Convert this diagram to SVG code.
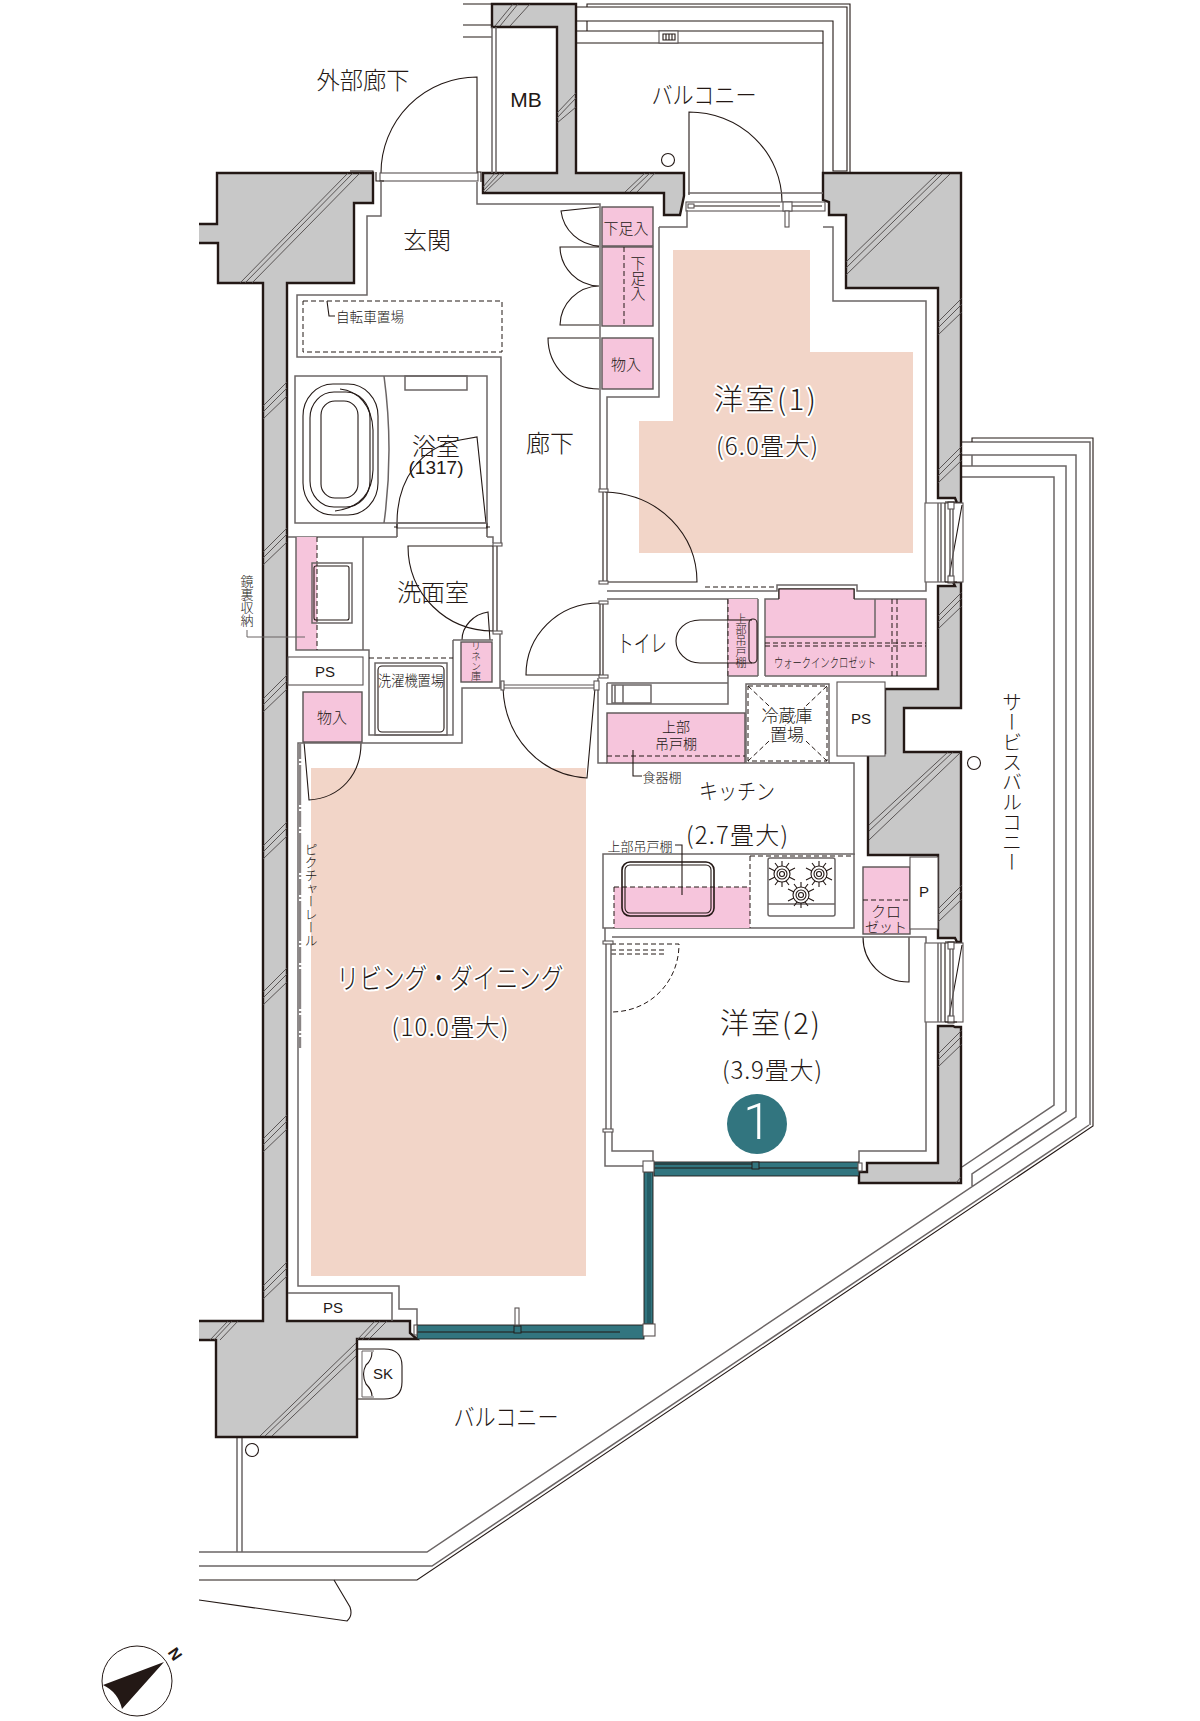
<svg xmlns="http://www.w3.org/2000/svg" width="1200" height="1721" viewBox="0 0 1200 1721">
<style>
text{font-family:"Noto Sans CJK JP","Noto Sans",sans-serif;fill:#231815;text-anchor:middle;dominant-baseline:central}
text:not(.en){font-weight:300}
.en{font-family:"Liberation Sans",Arial,sans-serif}
.halo{stroke:#fff;stroke-width:4px;paint-order:stroke;stroke-linejoin:round}
.v{writing-mode:vertical-rl;text-orientation:upright}
.f24{font-size:24px}.f22{font-size:22px}.f15{font-size:15px}.f14{font-size:14px}.f13{font-size:13px}.f12{font-size:12px}
.wall{fill:#c8c8c8;stroke:#231815;stroke-width:2.4;stroke-linejoin:miter}
.wf{fill:#c8c8c8;stroke:none}
.ws{fill:none;stroke:#231815;stroke-width:2.4}
.pink{fill:#f6c5dc;stroke:#5a5353;stroke-width:1.4}
.peach{fill:#f2d5c8}
.l{fill:none;stroke:#231815;stroke-width:1.1}
.g{fill:none;stroke:#6b6565;stroke-width:1.5}
.d{fill:none;stroke:#231815;stroke-width:1;stroke-dasharray:5 3}
.w{fill:#fff;stroke:#5a5353;stroke-width:1.1}
.h{fill:none;stroke:#4d4747;stroke-width:.9}
.teal{fill:#32757f;stroke:#231815;stroke-width:.9}
</style>
<defs>
<g id="hw"><path class="h" d="M24,0L0,24M24,6L0,30M24,14L0,37"/></g>
<g id="win">
<rect class="w" x="925" y="0" width="38" height="79"/>
<path class="g" d="M938,0V79M941,0V79"/>
<path class="l" d="M945,0V79M962,2L949,74"/>
<path class="g" d="M950,4V76M953,4V76"/>
<rect class="w" x="948" y="-1" width="6" height="7"/>
<rect class="w" x="948" y="73" width="6" height="7"/>
<path class="ws" d="M945,-1H957M945,79H957" style="stroke-width:1.2"/>
</g>
<g id="burner">
<circle class="l" r="8"/><circle class="l" r="5"/><circle class="l" r="2.5"/>
<path class="l" d="M0,-13V-8M0,13V8M-13,-6L-7,-3M13,-6L7,-3M-13,6L-7,3M13,6L7,3M-7,-11L-4,-7M7,-11L4,-7M-7,11L-4,7M7,11L4,7"/>
</g>
</defs>
<rect width="1200" height="1721" fill="#fff"/>

<g id="floor-colour">
<path class="peach" d="M673,250H810V352H913V553H639V421H673Z"/>
<rect class="peach" x="311" y="768" width="275" height="508"/>
</g>

<g id="balcony-rails">
<path class="l" d="M587,7V4H850V172M577,7H847V171H833V21H577M587,21V31M576,31H823V173M576,43H823"/>
<rect class="w" x="659" y="31" width="19" height="12"/>
<path class="l" d="M663,34H675V40H663ZM666,34V40M669,34V40M672,34V40"/>
<circle class="l" cx="668" cy="160" r="6.5"/>
<path class="l" d="M463,4H492M463,25H492M463,37H492"/>
<path class="g" d="M961,442H1090V1125M961,455H1076V1117L427,1552H199M972,455V466M961,466H1066V1111L972,1174V1186M961,477H1054V1105L962,1167"/>
<path class="l" d="M972,442V438H1093V1126L417,1580H199"/>
<path class="g" d="M1089,1125L432,1566H199"/>
<path class="l" d="M334,1580L350,1607Q353,1616 347,1621L199,1600"/>
<path class="g" d="M237,1437V1552M242,1437V1552"/>
<circle class="l" cx="252" cy="1450" r="6.5"/>
<circle class="l" cx="974" cy="763" r="6.5"/>
<path class="l" d="M357,1349H384Q402,1349 402,1366V1382Q402,1399 384,1399H357"/>
<path class="g" d="M362,1351H374M362,1351V1397H374" style="stroke-width:1"/>
<path class="l" d="M372,1352Q372,1360 366,1365Q361,1374 366,1384Q372,1390 372,1396"/>
</g>

<g id="walls">
<path class="wf" d="M216,173H373V203H354V283H287V1321H410V1333L417,1340H357V1437H216V1340H199V1321H263V283H218V243H199V224H217Z"/>
<path class="ws" d="M199,224H217V173H373V203H354V283H287V1321H410V1333L417,1339H357V1437H216V1340H199M199,243H218V283H263V1321H199"/>
<path class="wall" d="M492,27V4H576V173H684V196L680,215H664V193H483V173H557V27Z"/>
<path class="wall" d="M823,173H961V503H957L955,498H938V288H846V215H829V202L823,200Z"/>
<path class="wall" d="M961,582H953L955,586H938V689H885V753H868V855H938V938H955L957,942H961V752H904V708H961Z"/>
<path class="wall" d="M961,1027H955L953,1026H938V1163H867V1172H859V1183H961Z"/>
<path class="g" d="M492,27V173M496,27V173"/>
</g>

<g id="wall-hatch">
<use href="#hw" x="263" y="382"/><use href="#hw" x="263" y="528"/><use href="#hw" x="263" y="675"/><use href="#hw" x="263" y="822"/><use href="#hw" x="263" y="968"/><use href="#hw" x="263" y="1115"/><use href="#hw" x="263" y="1262"/>
<use href="#hw" x="938" y="298"/><use href="#hw" x="938" y="446"/><use href="#hw" x="938" y="592"/><use href="#hw" x="938" y="885"/><use href="#hw" x="938" y="1030"/>
<path class="h" d="M576,93L557,113M576,98L557,118M576,107L557,123M348,173L240,283M353,173L245,283M360,173L252,283M513,4L495,26M518,4L500,26M530,4L510,26M495,173L483,187M500,173L483,191M505,173L485,192M645,173L625,192M650,173L630,192M655,173L637,192M937,174L846,262M942,174L846,268M950,174L846,275M948,752L869,825M953,752L869,831M961,752L869,840M228,1321L210,1340M232,1321L214,1340M238,1321L220,1340M375,1321L357,1340M380,1321L362,1340M387,1321L368,1340M356,1343L260,1436M356,1349L265,1436M356,1356L272,1436M961,1177L956,1183"/>
</g>

<g id="windows-and-doors">
<use href="#win" y="503"/><use href="#win" y="943"/>
<path class="l" d="M477,175V77A96,96 0 0 0 381,173"/>
<rect class="w" x="380" y="173" width="98" height="8"/>
<path class="l" d="M376,172V181H384M477,172H481V182M350,171H373V173"/>
<path class="l" d="M689,195V112A93,90 0 0 1 782,202"/>
<path class="g" d="M688,193H823"/>
<rect class="w" x="686" y="202" width="139" height="9"/>
<path class="l" d="M690,206H780M792,206H822"/>
<rect class="w" x="783" y="202" width="9" height="9"/>
<rect class="w" x="785" y="211" width="4" height="16"/>
<rect class="w" x="688" y="204" width="6" height="4"/>
<path class="l" d="M599,207L561,211A40,40 0 0 0 599,246M599,247H560A40,40 0 0 0 599,286A40,40 0 0 0 560,325H599M599,338H548A51,51 0 0 0 599,389"/>
<path class="l" d="M605,492C660,494 697,535 697,582H605"/>
<path class="l" d="M600,603C557,603 526,636 526,675H600"/>
<path class="l" d="M486,523L477,437L460,440C420,447 397,480 397,523"/>
<path class="w" d="M397,523H487V528H397Z"/>
<path class="l" d="M397,523V537M487,523V537M394,527H397M486,527H490"/>
<path class="l" d="M493,546H408C408,594 446,631 493,631"/>
<path class="l" d="M462,640C462,626 474,614 488,612L490,640"/>
<path class="l" d="M503,688C505,738 540,775 587,778L595,688"/>
<path class="l" d="M304,742L309,800C340,798 361,775 361,743"/>
<path class="l" d="M863,937C863,962 882,982 909,982V937"/>
<path class="d" d="M611,944H679C679,982 650,1012 611,1012M611,950H664M611,954H664"/>
</g>

<g id="inner-walls">
<path class="g" d="M381,182V216H367V295H297V357H501V543M477,182V204H600V490M659,227V397H607V490M659,227H687V210M823,227H833V301H926V503M926,582V591H857V585H777V591H607M607,599H758"/>
<path class="l" d="M603,490V583M607,490V583M600,603V675M603,603V675M493,546V631M497,546V631"/>
<rect class="w" x="599" y="489" width="9" height="3"/>
<rect class="w" x="599" y="581" width="9" height="3"/>
<rect class="w" x="599" y="601" width="9" height="3"/>
<rect class="w" x="599" y="675" width="9" height="3"/>
<rect class="w" x="493" y="543" width="9" height="3"/>
<rect class="w" x="493" y="631" width="9" height="3"/>
<path class="g" d="M500,634V688H462V743H298V1286H399V1309H417V1325M453,640H493M288,537H397M487,537H493V543M607,683V704H728V599M607,683H728M598,678V763H607M829,763H854V855M288,1293H392V1321"/>
<path class="w" d="M502,685H595V688H502Z"/>
<rect class="w" x="501" y="681" width="3" height="9"/>
<rect class="w" x="594" y="681" width="5" height="9"/>
<path class="d" d="M705,587H775"/>
<path class="l" d="M779,599V589H854V599" />
<path class="g" d="M612,937H926V943M605,928V943M606,943V1130M611,943V1130M605,1131V1166H643M612,1131V1151H653V1162M859,1162V1151H926V1022"/>
<rect class="w" x="603" y="941" width="10" height="3"/>
<rect class="w" x="603" y="1129" width="10" height="3"/>
</g>

<g id="bicycle">
<rect class="d" x="303" y="301" width="199" height="51"/>
<path class="l" d="M327,301L329,316H335"/>
<text class="f14" x="370" y="316" textLength="68" lengthAdjust="spacingAndGlyphs">自転車置場</text>
</g>

<g id="bath">
<rect class="g" x="295" y="376" width="192" height="147"/>
<path class="g" d="M384,376Q394,450 384,523"/>
<rect class="g" x="405" y="376" width="62" height="14"/>
<rect class="l" x="303" y="384" width="75" height="131" rx="30" ry="32"/>
<rect class="l" x="310" y="392" width="60" height="115" rx="24" ry="26"/>
<rect class="l" x="321" y="401" width="37" height="97" rx="14" ry="14"/>
<path class="l" d="M340,389C358,391 372,405 373,430V470C372,495 358,508 335,511"/>
</g>

<g id="wash">
<rect class="pink" x="296" y="537" width="21" height="113" style="stroke:none"/>
<path class="g" d="M296,537V650H369V735H453V640M363,537V650"/>
<path class="d" d="M317,537V650M369,658H453"/>
<rect class="g" x="312" y="563" width="40" height="60"/>
<rect class="l" x="314" y="566" width="35" height="54" rx="2"/>
<rect class="g" x="375" y="663" width="72" height="72"/>
<rect class="l" x="378" y="666" width="66" height="66" rx="4"/>
<rect class="w" x="288" y="657" width="75" height="28"/>
<text class="en f15" x="325" y="671">PS</text>
<text class="f15" x="411" y="679" textLength="66" lengthAdjust="spacingAndGlyphs">洗濯機置場</text>
</g>

<g id="storage">
<rect class="pink" x="602" y="207" width="51" height="39"/>
<text class="f15" x="626" y="227">下足入</text>
<rect class="pink" x="602" y="247" width="51" height="79"/>
<path class="d" d="M624,247V326"/>
<text class="f15 v" x="638" y="278">下足入</text>
<rect class="pink" x="602" y="338" width="51" height="51"/>
<text class="f15" x="626" y="363">物入</text>
<rect class="pink" x="303" y="692" width="59" height="50"/>
<text class="f15" x="332" y="716">物入</text>
<rect class="pink" x="461" y="642" width="31" height="40"/>
<text class="v" x="476" y="661" style="font-size:10px">リネン庫</text>
<rect class="pink" x="863" y="867" width="47" height="67"/>
<path class="d" d="M863,900H910"/>
<text class="f15" x="886" y="910">クロ</text>
<text class="f14" x="886" y="926">ゼット</text>
</g>

<g id="toilet">
<path d="M728,599H758V676H728Z" fill="#f6c5dc"/>
<path class="d" d="M728,599V676"/>
<path class="g" d="M758,599V676M728,676H758"/>
<path class="l" d="M728,620H700C685,620 676,630 676,641C676,652 686,663 700,663H728H752"/>
<path class="l" d="M728,620H752"/>
<rect class="l" x="749" y="619" width="8" height="44" rx="4"/>
<text class="v" x="741" y="641" style="font-size:11px">上部吊戸棚</text>
<rect class="g" x="612" y="685" width="39" height="18"/>
<path class="g" d="M623,685V703M615,685V703"/>
</g>

<g id="wic">
<path class="pink" d="M779,589H854V599H926V676H765V599H779Z" style="stroke:none"/>
<path class="g" d="M765,676V599H779M875,599V637H765M854,599H926V676H765"/>
<path class="l" d="M779,599V589H854V599"/>
<path class="d" d="M765,643H926M765,646H926M892,599V676M897,599V676"/>
<text class="f13" x="825" y="661" textLength="102" lengthAdjust="spacingAndGlyphs">ウォークインクロゼット</text>
</g>

<g id="kitchen">
<rect class="pink" x="607" y="713" width="138" height="50"/>
<path class="d" d="M607,756H745"/>
<path class="l" d="M633,750V776H642"/>
<text class="f14" x="676" y="726">上部</text>
<text class="f14" x="676" y="743">吊戸棚</text>
<text class="f13" x="662" y="776">食器棚</text>
<rect class="g" x="746" y="684" width="83" height="79"/>
<path class="d" d="M748,686H827V761H748ZM748,686L827,761M827,686L748,761"/>
<text class="f15" x="787" y="714" style="font-size:17px;stroke:#fff;stroke-width:3px;paint-order:stroke">冷蔵庫</text>
<text class="f15" x="787" y="733" style="font-size:17px;stroke:#fff;stroke-width:3px;paint-order:stroke">置場</text>
<rect class="w" x="837" y="682" width="48" height="74"/>
<text class="en f15" x="861" y="718">PS</text>
<rect class="g" x="603" y="854" width="251" height="74"/>
<rect x="614" y="887" width="136" height="41" fill="#f6c5dc"/>
<path class="d" d="M614,887H750V928M750,856V887M750,856H854M614,887V928"/>
<rect class="l" x="622" y="862" width="92" height="54" rx="8" style="stroke-width:1.6"/>
<rect class="l" x="625" y="865" width="86" height="48" rx="5"/>
<rect class="g" x="768" y="858" width="67" height="58" rx="2"/>
<path class="g" d="M768,904H835"/>
<use href="#burner" x="782" y="874"/><use href="#burner" x="819" y="874"/><use href="#burner" x="801" y="895"/>
<path class="l" d="M675,845H682V895"/>
<text class="f13" x="640" y="845">上部吊戸棚</text>
<rect class="w" x="910" y="857" width="28" height="72"/>
<text class="en f15" x="924" y="891">P</text>
</g>

<g id="rail">
<path d="M300,743V1048" fill="none" stroke="#8a8585" stroke-width="2.4" stroke-dasharray="16 2 2 2 40 2 2 2"/>
</g>

<g id="sash">
<rect class="teal" x="654" y="1162" width="205" height="14"/>
<path class="l" d="M654,1164H752M752,1168H860M654,1168H752"/>
<rect class="teal" x="752" y="1162" width="7" height="7"/>
<rect class="teal" x="644" y="1172" width="9" height="152"/>
<path class="l" d="M648,1172V1324M650,1172V1324" style="stroke:#1d4a52"/>
<rect class="teal" x="417" y="1325" width="227" height="14"/>
<path class="l" d="M417,1332H515M519,1332H620"/>
<rect class="teal" x="514" y="1326" width="7" height="7"/>
<rect class="w" x="515" y="1308" width="4" height="17"/>
<rect class="w" x="643" y="1324" width="12" height="12"/>
<rect class="w" x="643" y="1161" width="11" height="11"/>
<rect class="w" x="414" y="1325" width="3" height="10"/>
<rect class="w" x="858" y="1163" width="4" height="8"/>
</g>

<g id="compass">
<circle class="l" cx="137" cy="1681" r="35" style="stroke-width:1"/>
<path d="M164,1662L103,1685Q118,1692 122,1709Z" fill="#231815"/>
<text x="175" y="1654" transform="rotate(55 175 1654)" style="font-size:16px;font-weight:700" class="en">N</text>
</g>

<g id="mirror-note">
<text class="f13 v" x="247" y="601">鏡裏収納</text>
<path class="g" d="M247,630V637H305" style="stroke-width:1"/>
</g>

<g id="labels">
<text class="f24" x="363" y="78" textLength="93" lengthAdjust="spacingAndGlyphs">外部廊下</text>
<text class="en" x="526" y="99" style="font-size:21px">MB</text>
<text class="f24" x="704" y="93" textLength="105" lengthAdjust="spacingAndGlyphs">バルコニー</text>
<text class="f24" x="427" y="238">玄関</text>
<text class="f24" x="550" y="441">廊下</text>
<text class="f24" x="436" y="444">浴室</text>
<text class="en" x="436" y="467" style="font-size:19px">(1317)</text>
<text class="f24" x="433" y="590">洗面室</text>
<text class="f24" x="642" y="641" textLength="50" lengthAdjust="spacingAndGlyphs">トイレ</text>
<text class="f22" x="737" y="789" textLength="76" lengthAdjust="spacingAndGlyphs">キッチン</text>
<text class="f24" x="737" y="833" textLength="102">(2.7畳大)</text>
<text class="halo" x="765" y="397" style="font-size:29px" textLength="102">洋室(1)</text>
<text class="f24 halo" x="767" y="444" textLength="102">(6.0畳大)</text>
<text class="halo" x="770" y="1021" style="font-size:29px" textLength="100">洋室(2)</text>
<text class="f24" x="772" y="1068" textLength="100">(3.9畳大)</text>
<text class="halo" x="450" y="977" style="font-size:28px" textLength="227" lengthAdjust="spacingAndGlyphs">リビング・ダイニング</text>
<text class="f24 halo" x="450" y="1025" textLength="117">(10.0畳大)</text>
<text class="v" x="311" y="895" style="font-size:13px">ピクチャーレール</text>
<text class="v" x="1012" y="782" style="font-size:20px">サービスバルコニー</text>
<text class="f24" x="506" y="1415" textLength="105" lengthAdjust="spacingAndGlyphs">バルコニー</text>
<text class="en f15" x="333" y="1307">PS</text>
<text class="en f15" x="383" y="1373">SK</text>
</g>

<g id="marker-1">
<circle cx="757" cy="1124" r="30" fill="#32757f"/>
<text x="757" y="1122" style="font-size:50px;fill:#fff;font-family:Roboto,sans-serif;font-weight:300">1</text>
</g>
</svg>
